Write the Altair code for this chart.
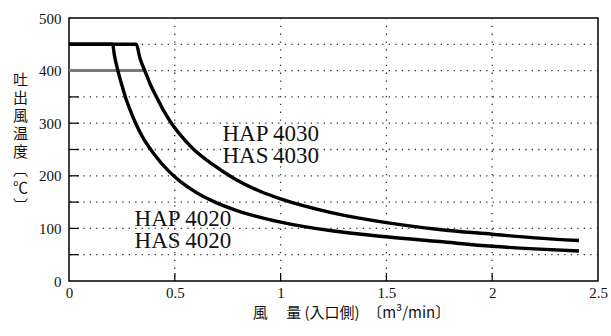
import altair as alt
import pandas as pd

# HAP4030 / HAS4030 curve (flow m3/min, outlet temperature °C)
flow_4030 = [0, 0.318, 0.335, 0.358, 0.385, 0.416, 0.45, 0.484, 0.53, 0.59, 0.674, 0.78, 0.9, 1.0, 1.25, 1.5, 1.75, 2.0, 2.2, 2.41]
temp_4030 = [450, 450, 424, 400, 373, 348, 322, 300, 276, 250, 223, 195, 171, 156, 129, 111, 98, 89, 82, 77]
# HAP4020 / HAS4020 curve
flow_4020 = [0, 0.206, 0.215, 0.231, 0.25, 0.268, 0.29, 0.315, 0.35, 0.397, 0.476, 0.524, 0.595, 0.69, 0.8, 1.0, 1.25, 1.5, 1.75, 2.0, 2.2, 2.41]
temp_4020 = [450, 450, 428, 400, 372, 348, 324, 300, 272, 244, 207, 190, 170, 150, 133, 112, 95, 84, 75, 66, 61, 57]
# grey 400 °C line
limit_flow = [0, 0.358]
limit_temp = [400, 400]

x_labels = [0, 0.5, 1, 1.5, 2, 2.5]
y_labels = [0, 100, 200, 300, 400, 500]
x_grid = [0.5, 1, 1.5, 2]
y_grid = [50, 100, 150, 200, 250, 300, 350, 400, 450]

labels = ["HAP\u20094030", "HAS\u20094030", "HAP\u20094020", "HAS\u20094020"]
x_title = "風　 量 (入口側)　〔m³/min〕"
y_title = ["吐", "出", "風", "温", "度", "︹", "℃", "︺"]

W, H = 529, 263

curves = pd.concat([
    pd.DataFrame({"flow": flow_4030, "temp": temp_4030, "model": "4030"}),
    pd.DataFrame({"flow": flow_4020, "temp": temp_4020, "model": "4020"}),
])
limit = pd.DataFrame({"flow": limit_flow, "temp": limit_temp})

xs = alt.Scale(domain=[0, 2.5], nice=False, zero=False)
ys = alt.Scale(domain=[0, 500], nice=False, zero=False)

serif = "Liberation Serif"
cjk = "Noto Sans CJK JP"

xa = alt.Axis(
    values=x_labels, grid=False, ticks=False, tickSize=0, domain=False, format="~g",
    labelFont=serif, labelFontSize=15, labelColor="#111", labelPadding=4,
    labelFlush=False,
    title=x_title, titleFont=cjk, titleFontSize=15, titleFontWeight="normal",
    titleColor="#111", titleX=282, titleY=24, titleAlign="center",
    titleBaseline="top", titleAnchor="start",
)
ya = alt.Axis(
    values=y_labels, grid=False, ticks=False, tickSize=0, domain=False,
    labelFont=serif, labelFontSize=15, labelColor="#111", labelPadding=8,
    labelFlush=False,
    title=y_title, titleFont=cjk, titleFontSize=15, titleFontWeight="normal",
    titleColor="#111", titleAngle=0, titleX=-49, titleY=54,
    titleAlign="center", titleBaseline="top", titleLineHeight=18,
)

hgrid = alt.Chart(pd.DataFrame({"v": y_grid})).mark_rule(
    color="#333", strokeWidth=1.3, strokeDash=[1.3, 5.2]
).encode(y=alt.Y("v:Q", scale=ys, axis=ya))

vgrid = alt.Chart(pd.DataFrame({"v": x_grid})).mark_rule(
    color="#333", strokeWidth=1.3, strokeDash=[1.3, 6.5]
).encode(x=alt.X("v:Q", scale=xs, axis=xa))

yticks = alt.Chart(pd.DataFrame({"v": y_grid})).mark_rule(
    color="black", strokeWidth=1.2
).encode(y=alt.Y("v:Q", scale=ys, axis=ya), x=alt.value(0), x2=alt.value(10))

xticks = alt.Chart(pd.DataFrame({"v": x_grid})).mark_rule(
    color="black", strokeWidth=1.2
).encode(x=alt.X("v:Q", scale=xs, axis=xa), y=alt.value(H), y2=alt.value(H - 8))

limit_line = alt.Chart(limit).mark_line(color="#7a7a7a", strokeWidth=3).encode(
    x=alt.X("flow:Q", scale=xs, axis=xa),
    y=alt.Y("temp:Q", scale=ys, axis=ya),
)

lines = alt.Chart(curves).mark_line(
    color="black", strokeWidth=3.4, interpolate="monotone"
).encode(
    x=alt.X("flow:Q", scale=xs, axis=xa),
    y=alt.Y("temp:Q", scale=ys, axis=ya),
    detail="model:N",
)

one = alt.Data(values=[{}])

def label(txt, xv, yv):
    return alt.Chart(one).mark_text(
        text=txt, align="left", baseline="alphabetic", font=serif, fontSize=23, color="#111"
    ).encode(x=alt.X(datum=xv, scale=xs, axis=xa), y=alt.Y(datum=yv, scale=ys, axis=ya))

texts = [
    label(labels[0], 0.725, 266),
    label(labels[1], 0.725, 223.5),
    label(labels[2], 0.31, 104.5),
    label(labels[3], 0.31, 62),
]

chart = alt.layer(hgrid, vgrid, yticks, xticks, limit_line, lines, *texts).properties(
    width=W, height=H,
    autosize=alt.AutoSizeParams(type="none"),
    padding={"left": 69, "top": 18, "right": 13, "bottom": 55},
    background="white",
).configure_view(stroke="black", strokeWidth=1.5)

chart.save("out.html", embed_options={"renderer": "svg", "actions": False})
